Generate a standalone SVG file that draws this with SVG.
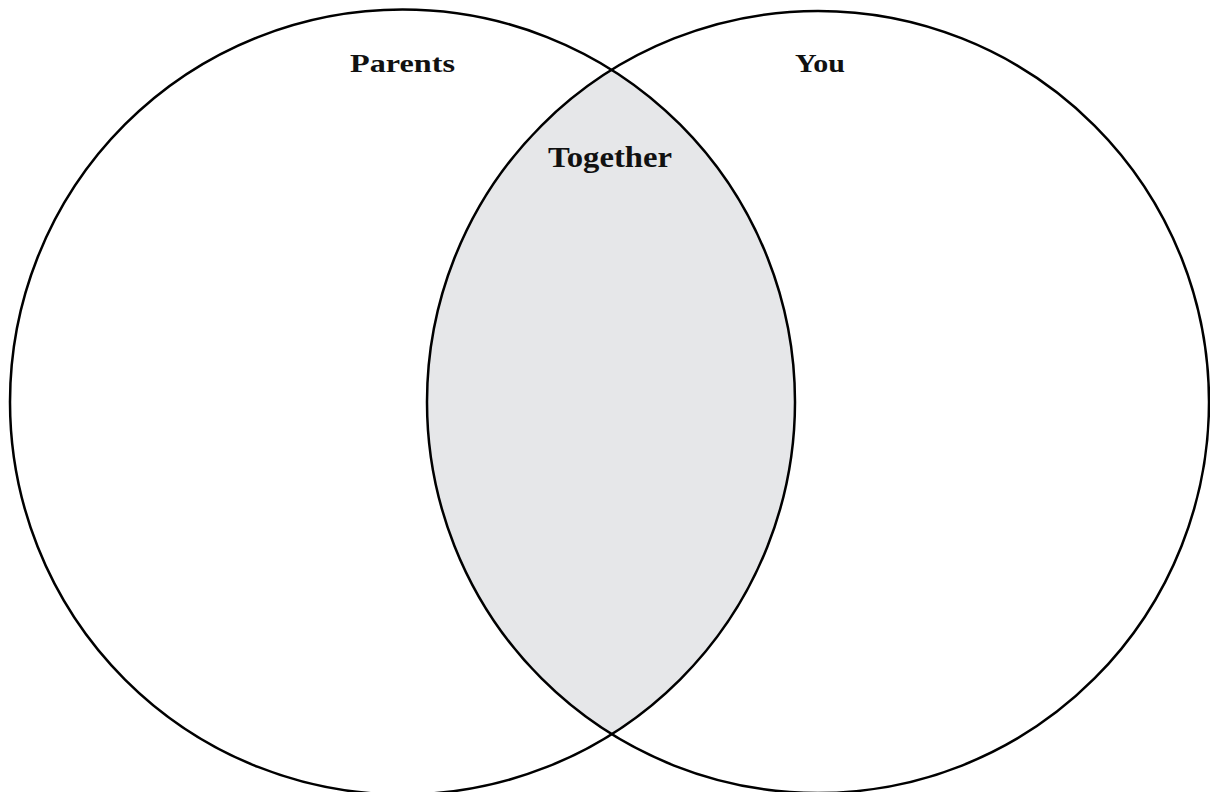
<svg xmlns="http://www.w3.org/2000/svg" width="1210" height="792" viewBox="0 0 1210 792">
<style>
.c{fill:none;stroke:#000;stroke-width:2.5}
.t{font-family:"Liberation Serif","Times New Roman",serif;font-weight:bold;fill:#111;text-anchor:middle}
</style>
<defs>
<clipPath id="clipL"><circle cx="402.5" cy="402" r="392.5"/></clipPath>
</defs>
<rect width="1210" height="792" fill="#fff"/>
<g id="lens"><circle cx="818" cy="402" r="391" fill="#e6e7e9" clip-path="url(#clipL)"/></g>
<g id="parents">
<circle class="c" cx="402.5" cy="402" r="392.5"/>
<text class="t" x="402.5" y="72" font-size="26" textLength="105" lengthAdjust="spacingAndGlyphs">Parents</text>
</g>
<g id="you">
<circle class="c" cx="818" cy="402" r="391"/>
<text class="t" x="820" y="72" font-size="26" textLength="50" lengthAdjust="spacingAndGlyphs">You</text>
</g>
<g id="together">
<text class="t" x="610" y="167" font-size="30" textLength="124" lengthAdjust="spacingAndGlyphs">Together</text>
</g>
<g id="connectors"/>
</svg>
